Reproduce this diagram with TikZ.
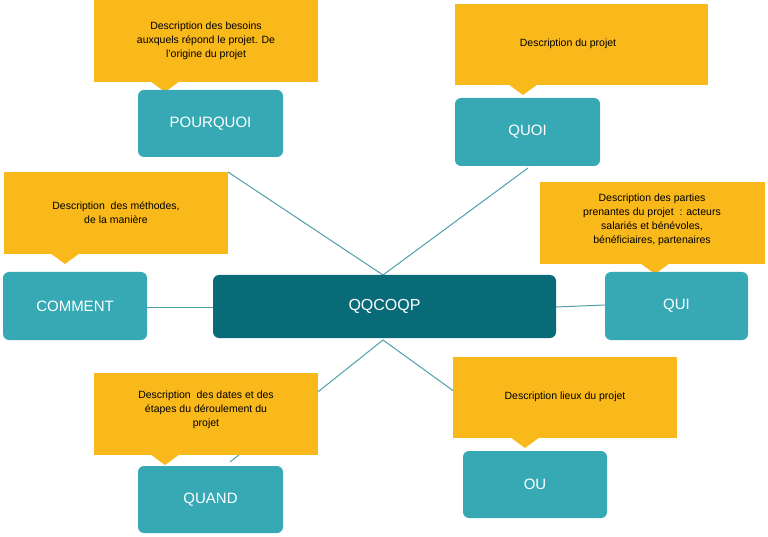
\documentclass[tikz,border=0pt]{standalone}
\usepackage{fontspec}
\setmainfont{Liberation Sans}
\definecolor{teal1}{HTML}{36A9B5}
\definecolor{teal2}{HTML}{0A6B78}
\definecolor{yel}{HTML}{F9B91A}
\definecolor{lin}{HTML}{4E9FA8}
\begin{document}
\begin{tikzpicture}[x=1pt,y=-1pt,
 box/.style={fill=teal1,rounded corners=6pt,text=white,font=\fontsize{15}{18}\selectfont,anchor=north west,inner sep=0pt},
 call/.style={fill=yel,anchor=north west,inner sep=4pt,font=\fontsize{10.5}{14}\selectfont,align=center},
 conn/.style={draw=lin,line width=1pt}]
\useasboundingbox (0,0) rectangle (768,537);
\newcommand{\callout}[6]{% name,x,y,w,h,px
 \fill[yel] (#2,#3) rectangle ++(#4,#5);
 \fill[yel] (#6,#3+#5-1) -- (#6+30,#3+#5-1) -- (#6+15,#3+#5+10) -- cycle;
 \node[font=\fontsize{10.5}{14}\selectfont,align=center,text width=#4-20] (#1) at (#2+#4/2,#3+#5/2) {};}
\newcommand{\tbox}[6]{% name,x1,y1,x2,y2,text
 \fill[teal1,rounded corners=6pt] (#2,#3) rectangle (#4,#5);
 \node[text=white,font=\fontsize{15}{18}\selectfont] (#1) at ({(#2+#4)/2},{(#3+#5)/2}) {#6};}
% connectors first
\coordinate (ct) at (383,275);
\coordinate (cb) at (383,340);
\coordinate (pq) at (228,172);
\coordinate (qo) at (528,168);
\coordinate (qa) at (230,462);
\coordinate (ou) at (455,392);
\draw[conn] (pq) -- (ct) -- (qo);
\draw[conn] (qa) -- (cb) -- (ou);
\draw[conn] (147,307) -- (213,307);
\draw[conn] (556,307) -- (605,305);
% callouts
\callout{c1}{94}{0}{224}{82}{150}
\callout{c2}{455}{4}{253}{81}{508}
\callout{c3}{540}{182}{225}{82}{640}
\callout{c4}{4}{172}{224}{82}{50}
\callout{c5}{94}{373}{224}{82}{150}
\callout{c6}{453}{357}{224}{81}{510}
\node[font=\fontsize{10.5}{14}\selectfont,align=center] at (206,41) {Description des besoins\\auxquels répond le projet. De\\l’origine du projet};
\node[font=\fontsize{10.5}{14}\selectfont,align=center] at (568,44) {Description du projet};
\node[font=\fontsize{10.5}{14}\selectfont,align=center] at (652,220) {Description des parties\\prenantes du projet\ \ : acteurs\\salariés et bénévoles,\\bénéficiaires, partenaires};
\node[font=\fontsize{10.5}{14}\selectfont,align=center] at (116,213) {Description\ \ des méthodes,\\de la manière};
\node[font=\fontsize{10.5}{14}\selectfont,align=center] at (206,410) {Description\ \ des dates et des\\étapes du déroulement du\\projet};
\node[font=\fontsize{10.5}{14}\selectfont,align=center] at (565,397) {Description lieux du projet};
% boxes
\fill[teal2,rounded corners=6pt] (213,275) rectangle (556,338);
\node[text=white,font=\fontsize{16}{19}\selectfont] (qq) at (384.5,306.5) {QQCOQP};
\tbox{pour}{138}{90}{283}{157}{POURQUOI}
\tbox{quoi}{455}{98}{600}{166}{QUOI}
\tbox{qui}{605}{272}{748}{340}{QUI}
\tbox{comment}{3}{272}{147}{340}{COMMENT}
\tbox{quand}{138}{466}{283}{533}{QUAND}
\tbox{oubox}{463}{451}{607}{518}{OU}
\end{tikzpicture}
\end{document}
